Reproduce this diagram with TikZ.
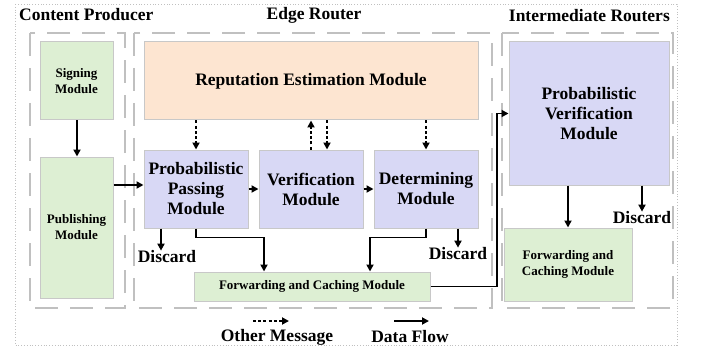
\documentclass[tikz,border=0pt]{standalone}
\usepackage{fontspec}
\setmainfont{Liberation Serif}
\usetikzlibrary{arrows.meta}
\definecolor{gfill}{HTML}{DDEFD3}
\definecolor{ofill}{HTML}{FDE5D1}
\definecolor{pfill}{HTML}{D8D8F5}
\definecolor{bord}{HTML}{C8C8C8}
\definecolor{dashc}{HTML}{C0C0C0}
\tikzset{
  box/.style={draw=bord, line width=1pt, inner sep=0pt, align=center, font=\bfseries},
  big/.style={font=\fontsize{17.5}{20}\selectfont\bfseries},
  small/.style={font=\fontsize{13}{16}\selectfont\bfseries},
  gbox/.style={box, fill=gfill, small},
  pbox/.style={box, fill=pfill, big},
  obox/.style={box, fill=ofill, big},
  group/.style={draw=dashc, line width=1.6pt, dash pattern=on 23pt off 12pt},
  flow/.style={draw=black, line width=1.8pt, -{Triangle[length=7pt,width=7pt]}},
  msg/.style={draw=black, line width=1.8pt, dash pattern=on 3pt off 2.2pt, -{Triangle[length=7pt,width=7pt]}},
  lbl/.style={big, inner sep=0pt},
}
\begin{document}
\begin{tikzpicture}[x=1pt,y=-1pt]
\useasboundingbox (0,0) rectangle (701,350);
\draw[draw=dashc, line width=0.8pt, dotted] (15,4) rectangle (677,345);
% groups
\draw[group] (30,33) rectangle (125,308);
\draw[group] (134,33) rectangle (492,308);
\draw[group] (502,33) rectangle (673,308);
% titles
\node[lbl, anchor=west] (tcp) at (19,15) {Content Producer};
\node[lbl] (ter) at (314,15) {Edge Router};
\node[lbl, anchor=east] (tir) at (670,16) {Intermediate Routers};
% modules
\node[gbox, minimum width=73pt, minimum height=78pt] (sign) at (76.5,81) {Signing\\Module};
\node[gbox, minimum width=73pt, minimum height=141pt] (pub) at (76.5,227.5) {Publishing\\Module};
\node[obox, minimum width=334pt, minimum height=78pt] (rep) at (311,81) {Reputation Estimation Module};
\node[pbox, minimum width=104pt, minimum height=78pt] (pp) at (196,189) {Probabilistic\\Passing\\Module};
\node[pbox, minimum width=104pt, minimum height=78pt] (ver) at (311,189) {Verification\\Module};
\node[pbox, minimum width=104pt, minimum height=78pt] (det) at (426,189) {Determining\\Module};
\node[gbox, minimum width=236pt, minimum height=29pt] (fc) at (312,286.5) {Forwarding and Caching Module};
\node[pbox, minimum width=160pt, minimum height=143pt] (pv) at (589,113.5) {Probabilistic\\Verification\\Module};
\node[gbox, minimum width=128pt, minimum height=73pt] (fc2) at (568,264.5) {Forwarding and\\Caching Module};
% discard labels
\node[lbl] (d1) at (167,257) {Discard};
\node[lbl] (d2) at (458,254) {Discard};
\node[lbl] (d3) at (642,218) {Discard};
% data flow
\draw[flow] (sign.south -| 77,0) -- (pub.north -| 77,0);
\draw[flow] (pub.east |- 0,185) -- (pp.west |- 0,185);
\draw[flow] (pp) -- (ver);
\draw[flow] (ver) -- (det);
\draw[flow] (pp.south -| 161,0) -- (d1.north -| 161,0);
\draw[flow] (det.south -| 458,0) -- (d2.north -| 458,0);
\draw[flow] (pp.south) |- (264,237.5) -- (fc.north -| 264,0);
\draw[flow] (det.south) |- (370,237.5) -- (fc.north -| 370,0);
\draw[flow] (fc.east) -- (497,286.5) |- (pv.west);
\draw[flow] (pv.south -| 568,0) -- (fc2.north);
\draw[flow] (pv.south -| 642,0) -- (d3.north -| 642,0);
% other messages
\draw[msg] (rep.south -| pp.north) -- (pp.north);
\draw[msg] (ver.north -| 311,0) -- (rep.south -| 311,0);
\draw[msg] (rep.south -| 327,0) -- (ver.north -| 327,0);
\draw[msg] (rep.south -| det.north) -- (det.north);
% legend
\coordinate (la1) at (253,321);
\coordinate (la2) at (289,321);
\coordinate (lb1) at (394,321);
\coordinate (lb2) at (429,321);
\draw[msg] (la1) -- (la2);
\draw[flow] (lb1) -- (lb2);
\node[lbl] (lom) at (277,337) {Other Message};
\node[lbl] (ldf) at (410,337) {Data Flow};
\end{tikzpicture}
\end{document}
